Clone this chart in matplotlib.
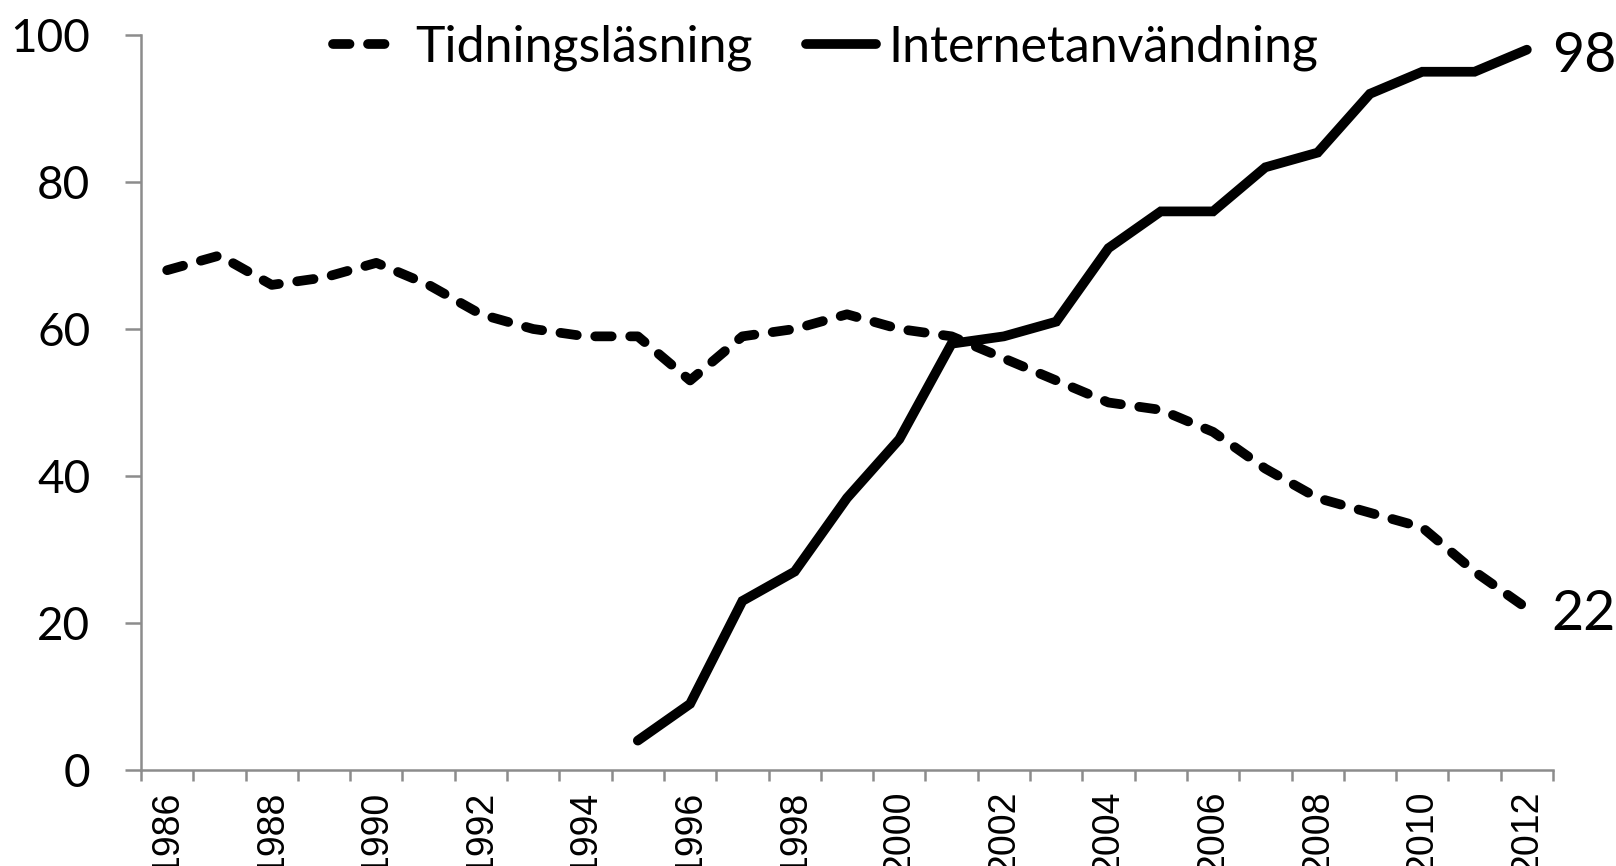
import matplotlib
matplotlib.use("Agg")
import matplotlib.pyplot as plt
from matplotlib.ticker import FixedLocator
import numpy as np

years = list(range(1986, 2013))
tidning = [68, 70, 66, 67, 69, 66, 62, 60, 59, 59, 53, 59, 60, 62, 60, 59,
           56, 53, 50, 49, 46, 41, 37, 35, 33, 27, 22]
internet_years = list(range(1995, 2013))
internet = [4, 9, 23, 27, 37, 45, 58, 59, 61, 71, 76, 76, 82, 84, 92, 95, 95, 98]
labels_series = ["Tidningsläsning", "Internetanvändning"]
yticks = [0, 20, 40, 60, 80, 100]

FONT = ["Lato", "DejaVu Sans"]

fig = plt.figure(figsize=(16.16, 8.66), dpi=100)
ax = fig.add_axes([141/1616, 1-770/866, (1553-141)/1616, (770-35)/866])

x_t = np.arange(len(years))
x_i = np.array([years.index(y) for y in internet_years])
lw = 7
l1, = ax.plot(x_t, tidning, color="black", lw=lw, linestyle=(0, (1.7, 1.9)),
              dash_capstyle="round", solid_joinstyle="round", label=labels_series[0])
l2, = ax.plot(x_i, internet, color="black", lw=lw, solid_capstyle="round",
              solid_joinstyle="miter", label=labels_series[1])

ax.set_xlim(-0.5, len(years) - 0.5)
ax.set_ylim(0, 100)

for s in ["top", "right"]:
    ax.spines[s].set_visible(False)
for s in ["left", "bottom"]:
    ax.spines[s].set_color("#8c8c8c")
    ax.spines[s].set_linewidth(1.8)

ax.set_yticks(yticks)
ax.set_yticklabels([str(v) for v in yticks], fontfamily=FONT, fontsize=33)
ax.tick_params(axis="y", length=11.5, width=1.8, color="#8c8c8c", pad=25)

# x: major labels every 2 years (no tick marks), minor ticks between categories
ax.set_xticks(x_t[::2])
ax.set_xticklabels([str(y) for y in years[::2]], rotation=90,
                   fontfamily=["Liberation Sans", "DejaVu Sans"], fontsize=27, va="top")
ax.tick_params(axis="x", which="major", length=0, pad=15)
ax.xaxis.set_minor_locator(FixedLocator(np.arange(-0.5, len(years), 1.0)))
ax.tick_params(axis="x", which="minor", length=8, width=1.8, color="#8c8c8c")

ax.annotate("98", xy=(x_i[-1], internet[-1]), xytext=(25, -22), textcoords="offset pixels",
            fontfamily=FONT, fontsize=40, va="baseline", ha="left")
ax.annotate("22", xy=(x_t[-1], tidning[-1]), xytext=(25, -22), textcoords="offset pixels",
            fontfamily=FONT, fontsize=40, va="baseline", ha="left")

leg = ax.legend(handles=[l1, l2], loc="center left", bbox_to_anchor=(333/1616, 1-48/866),
                bbox_transform=fig.transFigure, ncol=2, frameon=False,
                prop={"family": FONT, "size": 36}, handlelength=1.4, handletextpad=0.25,
                columnspacing=1.05, borderaxespad=0, borderpad=0)

fig.savefig("out.png", dpi=100)
